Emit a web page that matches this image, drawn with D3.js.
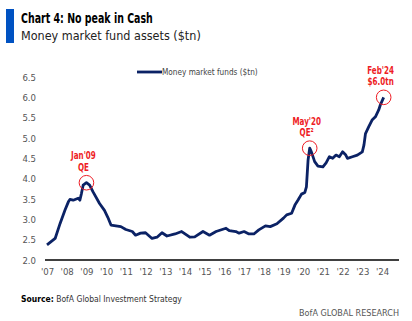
<html>
<head>
<meta charset="utf-8">
<script src="https://cdn.jsdelivr.net/npm/d3@7"></script>
<style>
body { margin: 0; background: #fff; }
svg text { font-family: "DejaVu Sans Condensed", "Roboto", sans-serif; }
</style>
</head>
<body>
<svg width="412" height="321"></svg>
<script>

// monthly reading of the series (YYYY-MM, $tn)
var months = ["2007-01","2007-06","2007-09","2007-12","2008-02","2008-03","2008-05","2008-08","2008-09","2008-10",
  "2008-11","2009-01","2009-03","2009-05","2009-09","2009-12","2010-02","2010-04","2010-07","2010-10",
  "2011-01","2011-05","2011-07","2011-10","2012-01","2012-05","2012-08","2012-11","2013-02","2013-07",
  "2013-11","2014-04","2014-07","2014-12","2015-04","2015-08","2016-02","2016-04","2016-08","2016-10",
  "2017-01","2017-04","2017-07","2017-10","2018-02","2018-05","2018-09","2019-01","2019-03","2019-06",
  "2019-08","2019-10","2019-12","2020-02","2020-03","2020-04","2020-05","2020-06","2020-08","2020-10",
  "2021-01","2021-03","2021-05","2021-07","2021-09","2021-11","2022-01","2022-03","2022-04","2022-07",
  "2022-10","2023-01","2023-02","2023-03","2023-05","2023-07","2023-09","2023-11","2023-12","2024-02"];
var assets = [2.37,2.53,2.90,3.23,3.43,3.49,3.47,3.52,3.47,3.64,
  3.84,3.90,3.84,3.68,3.39,3.22,3.05,2.86,2.84,2.82,
  2.75,2.70,2.61,2.66,2.67,2.53,2.56,2.67,2.59,2.64,
  2.70,2.56,2.57,2.70,2.61,2.70,2.78,2.72,2.70,2.66,
  2.70,2.64,2.64,2.74,2.84,2.82,2.89,3.03,3.11,3.15,
  3.35,3.48,3.62,3.66,3.80,4.46,4.75,4.66,4.42,4.31,
  4.29,4.39,4.54,4.50,4.58,4.54,4.66,4.58,4.50,4.54,
  4.58,4.66,4.83,5.11,5.28,5.44,5.52,5.69,5.81,6.00];

var yTicks = [2.0,2.5,3.0,3.5,4.0,4.5,5.0,5.5,6.0,6.5];
var yearTicks = d3.range(2007, 2025);

var callouts = [
  {month: "2009-01", value: 3.90, lines: ["Jan'09", "QE"]},
  {month: "2020-05", value: 4.75, lines: ["May'20", "QE²"]},
  {month: "2024-02", value: 6.00, lines: ["Feb'24", "$6.0tn"]}
];

var parse = d3.timeParse("%Y-%m");
var data = months.map(function(m, i) { return {date: parse(m), value: assets[i]}; });

var svg = d3.select("svg");
var navy = "#0b2265", red = "#ee1c25";

// squeeze text horizontally, the original uses a narrow face
function condense(sel, k) {
  sel.each(function() {
    var w = this.getComputedTextLength();
    d3.select(this).attr("textLength", w * k).attr("lengthAdjust", "spacingAndGlyphs");
  });
}

var x = d3.scaleTime()
    .domain([new Date(2007, 0, 1), new Date(2024, 0, 1)])
    .range([47, 382]);

var y = d3.scaleLinear()
    .domain([2, 6.5])
    .range([260, 77]);

// title block
svg.append("rect").attr("x", 6).attr("y", 9).attr("width", 8).attr("height", 34).attr("fill", "#0052c2");
svg.append("text").attr("x", 21).attr("y", 23)
    .attr("font-size", 14).attr("font-weight", "bold").attr("fill", "#000")
    .text("Chart 4: No peak in Cash")
    .call(condense, 0.75);
svg.append("text").attr("x", 21).attr("y", 40)
    .attr("font-size", 13).attr("fill", "#222")
    .text("Money market fund assets ($tn)")
    .call(condense, 0.96);

// axes
svg.append("g")
    .attr("transform", "translate(36,0)")
    .call(d3.axisLeft(y).tickValues(yTicks).tickFormat(d3.format(".1f")).tickSize(0).tickPadding(0))
    .call(function(g) { g.select(".domain").remove(); })
    .selectAll("text")
    .attr("font-size", 9.5).attr("fill", "#555");

var xa = svg.append("g")
    .attr("transform", "translate(0," + y(2) + ")")
    .call(d3.axisBottom(x).tickValues(yearTicks.map(function(yr) { return new Date(yr, 0, 1); }))
      .tickFormat(d3.timeFormat("'%y")).tickSize(0).tickPadding(8));
xa.select(".domain").remove();
xa.selectAll("text").attr("font-size", 9.5).attr("fill", "#555");

svg.append("line")
    .attr("x1", 45).attr("x2", 399)
    .attr("y1", y(2)).attr("y2", y(2))
    .attr("stroke", "#000").attr("stroke-width", 1.5);

// series
var line = d3.line()
    .x(function(d) { return x(d.date); })
    .y(function(d) { return y(d.value); });

svg.append("path")
    .datum(data)
    .attr("fill", "none")
    .attr("stroke", navy)
    .attr("stroke-width", 2.8)
    .attr("stroke-linejoin", "round")
    .attr("d", line);

// legend
svg.append("line").attr("x1", 137).attr("x2", 162).attr("y1", 72).attr("y2", 72)
    .attr("stroke", navy).attr("stroke-width", 2.8);
svg.append("text").attr("x", 162).attr("y", 75)
    .attr("font-size", 8.5).attr("fill", "#444")
    .text("Money market funds ($tn)")
    .call(condense, 0.96);

// callouts
var c = svg.selectAll(".callout").data(callouts).enter().append("g").attr("class", "callout");
c.append("circle")
    .attr("cx", function(d) { return x(parse(d.month)); })
    .attr("cy", function(d) { return y(d.value); })
    .attr("r", 7.3)
    .attr("fill", "none").attr("stroke", red).attr("stroke-width", 1);
c.each(function(d) {
  var g = d3.select(this), cx = x(parse(d.month)) - 3, cy = y(d.value);
  d.lines.forEach(function(t, i) {
    g.append("text").attr("x", cx).attr("y", cy - 23.5 + i * 11.5)
      .attr("text-anchor", "middle").attr("font-size", 10.5).attr("font-weight", "bold")
      .attr("fill", red).text(t)
      .call(condense, 0.76);
  });
});

// footer
var src = svg.append("text").attr("x", 21).attr("y", 302).attr("font-size", 8.5).attr("fill", "#333");
src.append("tspan").attr("font-weight", "bold").attr("fill", "#000").text("Source:");
src.append("tspan").text(" BofA Global Investment Strategy");
svg.append("text").attr("x", 399).attr("y", 316).attr("text-anchor", "end")
    .attr("font-size", 9).attr("fill", "#555")
    .text("BofA GLOBAL RESEARCH");

</script>
</body>
</html>
